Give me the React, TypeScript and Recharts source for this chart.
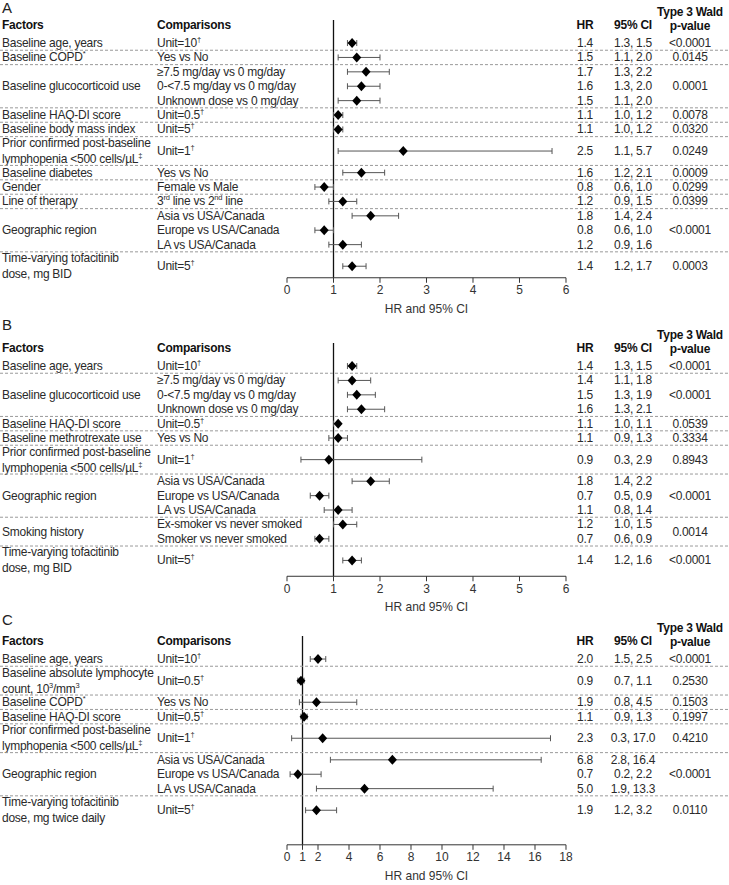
import React from "react";
import { ScatterChart, Scatter, XAxis, YAxis, ErrorBar, ReferenceLine } from "recharts";

// ---- Panel A ----
const aFactors = [
  "Baseline age, years",
  "Baseline COPD{*}",
  "Baseline glucocorticoid use",
  "Baseline HAQ-DI score",
  "Baseline body mass index",
  "Prior confirmed post-baseline\nlymphopenia <500 cells/µL{‡}",
  "Baseline diabetes",
  "Gender",
  "Line of therapy",
  "Geographic region",
  "Time-varying tofacitinib\ndose, mg BID",
];
const aGroupSizes = [1, 1, 3, 1, 1, 1, 1, 1, 1, 3, 1];
const aPValues = ["<0.0001", "0.0145", "0.0001", "0.0078", "0.0320", "0.0249", "0.0009", "0.0299", "0.0399", "<0.0001", "0.0003"];
const aComparisons = [
  "Unit=10{†}",
  "Yes vs No",
  "≥7.5 mg/day vs 0 mg/day",
  "0-<7.5 mg/day vs 0 mg/day",
  "Unknown dose vs 0 mg/day",
  "Unit=0.5{†}",
  "Unit=5{†}",
  "Unit=1{†}",
  "Yes vs No",
  "Female vs Male",
  "3{rd} line vs 2{nd} line",
  "Asia vs USA/Canada",
  "Europe vs USA/Canada",
  "LA vs USA/Canada",
  "Unit=5{†}",
];
const aHR = [1.4, 1.5, 1.7, 1.6, 1.5, 1.1, 1.1, 2.5, 1.6, 0.8, 1.2, 1.8, 0.8, 1.2, 1.4];
const aLow = [1.3, 1.1, 1.3, 1.3, 1.1, 1.0, 1.0, 1.1, 1.2, 0.6, 0.9, 1.4, 0.6, 0.9, 1.2];
const aHigh = [1.5, 2.0, 2.2, 2.0, 2.0, 1.2, 1.2, 5.7, 2.1, 1.0, 1.5, 2.4, 1.0, 1.6, 1.7];
const aTicks = [0, 1, 2, 3, 4, 5, 6];

// ---- Panel B ----
const bFactors = [
  "Baseline age, years",
  "Baseline glucocorticoid use",
  "Baseline HAQ-DI score",
  "Baseline methrotrexate use",
  "Prior confirmed post-baseline\nlymphopenia <500 cells/µL{‡}",
  "Geographic region",
  "Smoking history",
  "Time-varying tofacitinib\ndose, mg BID",
];
const bGroupSizes = [1, 3, 1, 1, 1, 3, 2, 1];
const bPValues = ["<0.0001", "<0.0001", "0.0539", "0.3334", "0.8943", "<0.0001", "0.0014", "<0.0001"];
const bComparisons = [
  "Unit=10{†}",
  "≥7.5 mg/day vs 0 mg/day",
  "0-<7.5 mg/day vs 0 mg/day",
  "Unknown dose vs 0 mg/day",
  "Unit=0.5{†}",
  "Yes vs No",
  "Unit=1{†}",
  "Asia vs USA/Canada",
  "Europe vs USA/Canada",
  "LA vs USA/Canada",
  "Ex-smoker vs never smoked",
  "Smoker vs never smoked",
  "Unit=5{†}",
];
const bHR = [1.4, 1.4, 1.5, 1.6, 1.1, 1.1, 0.9, 1.8, 0.7, 1.1, 1.2, 0.7, 1.4];
const bLow = [1.3, 1.1, 1.3, 1.3, 1.0, 0.9, 0.3, 1.4, 0.5, 0.8, 1.0, 0.6, 1.2];
const bHigh = [1.5, 1.8, 1.9, 2.1, 1.1, 1.3, 2.9, 2.2, 0.9, 1.4, 1.5, 0.9, 1.6];
const bTicks = [0, 1, 2, 3, 4, 5, 6];

// ---- Panel C ----
const cFactors = [
  "Baseline age, years",
  "Baseline absolute lymphocyte\ncount, 10{3}/mm{3}",
  "Baseline COPD{*}",
  "Baseline HAQ-DI score",
  "Prior confirmed post-baseline\nlymphopenia <500 cells/µL{‡}",
  "Geographic region",
  "Time-varying tofacitinib\ndose, mg twice daily",
];
const cGroupSizes = [1, 1, 1, 1, 1, 3, 1];
const cPValues = ["<0.0001", "0.2530", "0.1503", "0.1997", "0.4210", "<0.0001", "0.0110"];
const cComparisons = [
  "Unit=10{†}",
  "Unit=0.5{†}",
  "Yes vs No",
  "Unit=0.5{†}",
  "Unit=1{†}",
  "Asia vs USA/Canada",
  "Europe vs USA/Canada",
  "LA vs USA/Canada",
  "Unit=5{†}",
];
const cHR = [2.0, 0.9, 1.9, 1.1, 2.3, 6.8, 0.7, 5.0, 1.9];
const cLow = [1.5, 0.7, 0.8, 0.9, 0.3, 2.8, 0.2, 1.9, 1.2];
const cHigh = [2.5, 1.1, 4.5, 1.3, 17.0, 16.4, 2.2, 13.3, 3.2];
const cTicks = [0, 1, 2, 4, 6, 8, 10, 12, 14, 16, 18];

const FONT = '"Liberation Sans", Arial, Helvetica, sans-serif';
const FS = 12;
const LS = -0.25;
const W = 729;
const ROW_PX = 14.4;
const HEAD_POS = 0.35;
const FIRST_TOP = 1.1;
const X_FACTOR = 2;
const X_COMP = 157;
const X_HR = 585;
const X_CI = 633;
const X_P = 690;
const TXT = "#2a2a2a";

// "{...}" marks superscript
function rich(s: string) {
  const out: React.ReactNode[] = [];
  let up = false;
  s.split(/(\{[^}]*\})/).forEach((p, i) => {
    if (!p) return;
    if (p[0] === "{") {
      out.push(
        <tspan key={i} fontSize={7.5} dy={up ? 0 : -4}>
          {p.slice(1, -1)}
        </tspan>
      );
      up = true;
    } else {
      out.push(
        <tspan key={i} dy={up ? 4 : 0}>
          {p}
        </tspan>
      );
      up = false;
    }
  });
  return out;
}

function buildLayout(factors: string[], sizes: number[], pvals: string[], comps: string[], hr: number[], lo: number[], hi: number[], bottomPad: number) {
  const rows: any[] = [];
  const marks: any[] = [{ pos: HEAD_POS, kind: "head" }];
  let cursor = FIRST_TOP;
  let r = 0;
  let lastCenter = 0;
  factors.forEach((f, gi) => {
    const n = sizes[gi];
    const tall = n === 1 && f.includes("\n") ? 2 : 1;
    const start = cursor;
    for (let k = 0; k < n; k++) {
      const pos = cursor + tall / 2;
      rows.push({
        pos,
        hr: hr[r],
        err: [+(hr[r] - lo[r]).toFixed(3), +(hi[r] - hr[r]).toFixed(3)],
        comp: comps[r],
        ci: `${lo[r].toFixed(1)}, ${hi[r].toFixed(1)}`,
      });
      lastCenter = pos;
      cursor += tall;
      r++;
    }
    marks.push({ pos: (start + cursor) / 2, kind: "group", label: f, p: pvals[gi] });
    if (gi < factors.length - 1) marks.push({ pos: cursor, kind: "sep" });
  });
  marks.sort((a, b) => a.pos - b.pos);
  return { rows, marks, end: lastCenter + bottomPad };
}

function Diamond(props: any) {
  const { cx, cy } = props;
  return <polygon points={`${cx},${cy - 5} ${cx + 4.5},${cy} ${cx},${cy + 5} ${cx - 4.5},${cy}`} fill="#000" />;
}

function findNear(list: any[], v: number) {
  return list.find((d) => Math.abs(d.pos - v) < 1e-4);
}

function Panel({ letter, top, marginTop, factors, sizes, pvals, comps, hr, lo, hi, ticks, bottomPad }: any) {
  const { rows, marks, end } = buildLayout(factors, sizes, pvals, comps, hr, lo, hi, bottomPad);
  const xAxisH = 35;
  const bottom = 6;
  const height = marginTop + end * ROW_PX + xAxisH + bottom;
  const xMax = ticks[ticks.length - 1];

  const rowTick = (props: any) => {
    const d = findNear(rows, props.payload.value);
    if (!d) return <g />;
    const y = props.y;
    return (
      <g fill={TXT} fontSize={FS} letterSpacing={LS}>
        <text x={X_COMP} y={y} dominantBaseline="central">{rich(d.comp)}</text>
        <text x={X_HR} y={y} textAnchor="middle" dominantBaseline="central">{d.hr.toFixed(1)}</text>
        <text x={X_CI} y={y} textAnchor="middle" dominantBaseline="central">{d.ci}</text>
      </g>
    );
  };

  const markTick = (props: any) => {
    const d = findNear(marks, props.payload.value);
    const y = props.y;
    if (!d) return <g />;
    if (d.kind === "sep") {
      return <line x1={0} x2={W} y1={y} y2={y} stroke="#9a9a9a" strokeDasharray="3 2" strokeWidth={1} />;
    }
    if (d.kind === "head") {
      return (
        <g fill="#111" fontSize={FS} fontWeight="bold" letterSpacing={LS}>
          <text x={X_FACTOR} y={y} dominantBaseline="central">Factors</text>
          <text x={X_COMP} y={y} dominantBaseline="central">Comparisons</text>
          <text x={X_HR} y={y} textAnchor="middle" dominantBaseline="central">HR</text>
          <text x={X_CI} y={y} textAnchor="middle" dominantBaseline="central">95% CI</text>
          <text x={X_P} y={y - 13} textAnchor="middle" dominantBaseline="central">Type 3 Wald</text>
          <text x={X_P} y={y + 1} textAnchor="middle" dominantBaseline="central">p-value</text>
        </g>
      );
    }
    const lines = d.label.split("\n");
    return (
      <g fill={TXT} fontSize={FS} letterSpacing={LS}>
        {lines.map((ln: string, i: number) => (
          <text key={i} x={X_FACTOR} y={y + (i - (lines.length - 1) / 2) * 16} dominantBaseline="central">
            {rich(ln)}
          </text>
        ))}
        <text x={X_P} y={y} textAnchor="middle" dominantBaseline="central">{d.p}</text>
      </g>
    );
  };

  return (
    <div style={{ position: "absolute", left: 0, top, width: W, height }}>
      <div style={{ position: "absolute", left: 2, top: 0, fontSize: 15, lineHeight: "16px", color: "#222" }}>{letter}</div>
      <ScatterChart width={W} height={height} margin={{ top: marginTop, right: W - 566, bottom, left: 285 }}>
        <XAxis
          type="number"
          dataKey="hr"
          domain={[0, xMax]}
          ticks={ticks}
          interval={0}
          allowDataOverflow
          height={xAxisH}
          tick={{ fontSize: FS, fill: "#333" }}
          tickSize={5}
          tickMargin={3}
          stroke="#333"
          label={{ value: "HR and 95% CI", position: "insideBottom", offset: 0, fontSize: FS, fill: "#333" }}
        />
        <YAxis
          yAxisId="rows"
          type="number"
          dataKey="pos"
          domain={[0, end]}
          reversed
          allowDataOverflow
          ticks={rows.map((d) => d.pos)}
          interval={0}
          width={1}
          axisLine={false}
          tickLine={false}
          tick={rowTick}
        />
        <YAxis
          yAxisId="marks"
          type="number"
          domain={[0, end]}
          reversed
          allowDataOverflow
          ticks={marks.map((d) => d.pos)}
          interval={0}
          width={1}
          axisLine={false}
          tickLine={false}
          tick={markTick}
        />
        <ReferenceLine x={1} yAxisId="rows" stroke="#111" strokeWidth={1.3} />
        <Scatter yAxisId="rows" data={rows} shape={Diamond} isAnimationActive={false}>
          <ErrorBar dataKey="err" direction="x" width={3} stroke="#555" strokeWidth={1} />
        </Scatter>
      </ScatterChart>
    </div>
  );
}

export default function App() {
  return (
    <div style={{ position: "absolute", left: 0, top: 0, width: W, height: 885, background: "#fff", fontFamily: FONT }}>
      <Panel letter="A" top={0} marginTop={20} factors={aFactors} sizes={aGroupSizes} pvals={aPValues} comps={aComparisons} hr={aHR} lo={aLow} hi={aHigh} ticks={aTicks} bottomPad={0.8} />
      <Panel letter="B" top={317} marginTop={26} factors={bFactors} sizes={bGroupSizes} pvals={bPValues} comps={bComparisons} hr={bHR} lo={bLow} hi={bHigh} ticks={bTicks} bottomPad={1.1} />
      <Panel letter="C" top={612} marginTop={24} factors={cFactors} sizes={cGroupSizes} pvals={cPValues} comps={cComparisons} hr={cHR} lo={cLow} hi={cHigh} ticks={cTicks} bottomPad={2.4} />
    </div>
  );
}
